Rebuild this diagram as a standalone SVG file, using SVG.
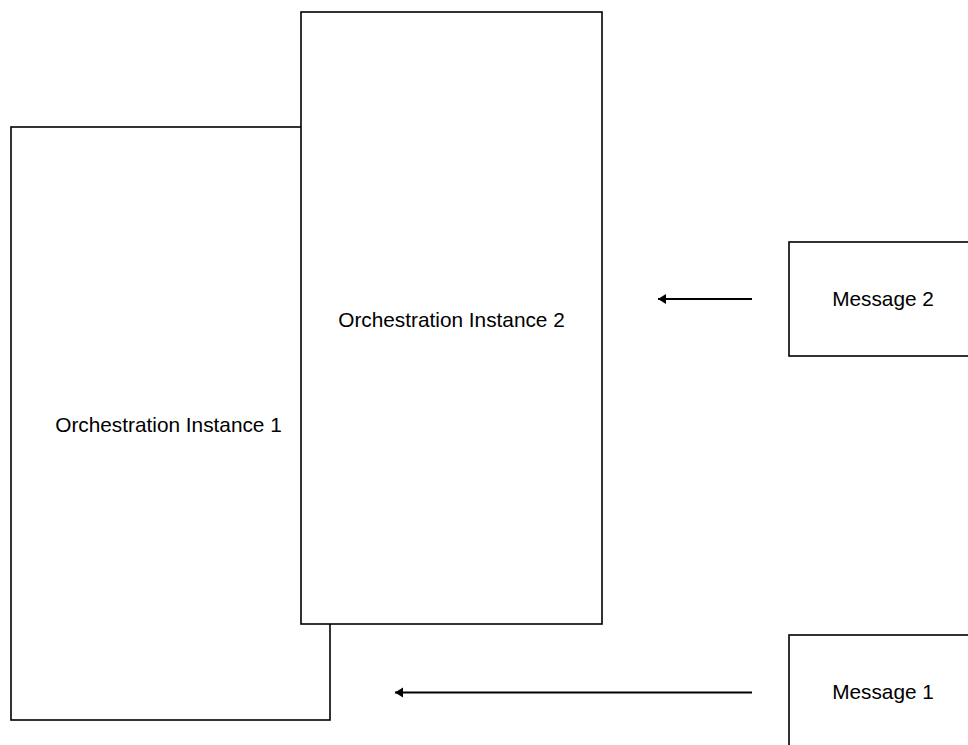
<svg xmlns="http://www.w3.org/2000/svg" width="968" height="745" viewBox="0 0 968 745">
  <style>
    .box { fill: #ffffff; stroke: #000000; stroke-width: 1.6; }
    .label { font-family: "Liberation Sans", Arial, sans-serif; font-size: 20.8px; fill: #000000; text-anchor: middle; }
    .flow { stroke: #000000; stroke-width: 1.8; fill: none; marker-end: url(#head); }
  </style>
  <defs>
    <marker id="head" markerUnits="userSpaceOnUse" markerWidth="10" markerHeight="14" refX="8" refY="7" orient="auto">
      <path d="M0,2 L8,7 L0,12 Z" fill="#000000"/>
    </marker>
  </defs>

  <rect width="968" height="745" fill="#ffffff"/>

  <g id="instance1">
    <rect class="box" x="11" y="127" width="319" height="593"/>
    <text class="label" x="168.5" y="431.5">Orchestration Instance 1</text>
  </g>

  <g id="instance2">
    <rect class="box" x="301" y="12" width="301" height="612"/>
    <text class="label" x="451.5" y="326.5">Orchestration Instance 2</text>
  </g>

  <g id="message2">
    <rect class="box" x="789" y="242" width="190" height="114"/>
    <text class="label" x="883" y="305.5">Message 2</text>
  </g>

  <g id="message1">
    <rect class="box" x="789" y="635" width="190" height="114"/>
    <text class="label" x="883" y="699">Message 1</text>
  </g>

  <g id="connectors">
    <line class="flow" x1="752" y1="299" x2="658" y2="299"/>
    <line class="flow" x1="752" y1="692.5" x2="395" y2="692.5"/>
  </g>
</svg>
